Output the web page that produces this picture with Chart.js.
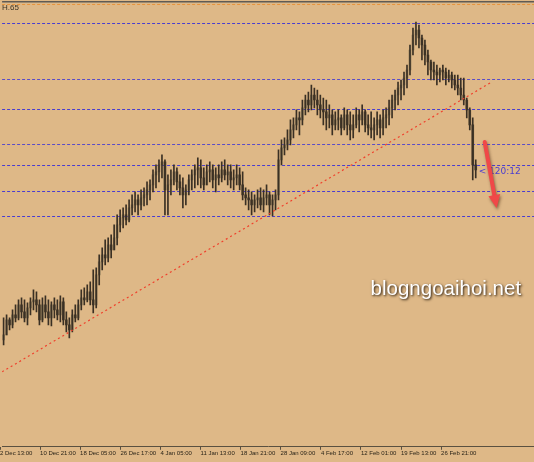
<!DOCTYPE html>
<html>
<head>
<meta charset="utf-8">
<script src="https://cdn.jsdelivr.net/npm/chart.js@4.4.1/dist/chart.umd.min.js"></script>
<style>
  html, body { margin: 0; padding: 0; background: #deb887; }
  #wrap { width: 534px; height: 462px; position: relative; }
</style>
</head>
<body>
<div id="wrap"><canvas id="chart"></canvas></div>
<script>
// H4 candles (price units)
const opens = [110,115,130,125,135,132,145,138,132,142,148,150,145,130,145,138,132,145,140,135,
  148,130,125,120,135,132,145,152,150,158,150,145,175,188,195,192,205,200,212,225,
  232,235,230,242,245,250,245,252,255,260,265,275,278,285,288,260,265,270,278,268,
  262,255,260,270,275,280,282,272,265,278,280,270,275,272,280,275,278,270,272,275,
  265,255,252,250,245,250,252,245,252,255,245,250,255,290,302,305,310,320,325,332,
  330,342,350,345,355,350,345,340,338,332,335,325,330,332,322,335,325,320,325,335,
  330,338,325,322,320,325,330,322,332,335,342,350,355,362,365,372,380,400,415,420,
  412,405,395,388,380,378,375,380,378,372,375,370,365,362,355,350,340,325,285];
const highs = [132,135,132,140,145,150,152,150,147,152,160,158,150,152,154,150,148,152,150,154,
  152,138,132,140,145,150,160,162,165,168,180,182,195,202,210,212,215,225,235,240,
  242,245,250,255,258,255,260,262,268,270,280,285,290,295,290,275,280,285,282,275,
  272,265,275,280,285,292,290,282,285,288,285,282,285,288,290,285,285,280,285,282,
  278,262,260,258,255,260,262,260,265,258,255,260,300,310,312,320,330,332,340,338,
  350,355,358,365,362,360,355,352,350,345,340,338,340,335,342,340,338,335,342,340,
  345,340,335,338,332,338,335,340,342,350,355,360,368,370,378,385,405,422,428,425,
  415,410,400,390,388,385,382,385,382,380,378,375,375,372,372,352,342,332,290];
const lows = [105,115,120,122,128,130,132,128,125,135,140,138,125,128,132,125,124,132,130,128,
  125,118,112,118,128,130,140,145,148,145,137,142,165,180,185,188,192,200,205,218,
  222,225,228,235,238,235,240,244,245,250,258,262,268,272,235,235,255,265,260,255,
  242,245,255,260,262,265,262,260,265,268,262,258,265,268,270,265,262,260,265,260,
  250,245,240,235,238,242,240,238,245,235,234,240,250,285,295,300,305,312,320,315,
  325,335,338,340,342,335,332,325,320,322,315,320,320,315,320,315,310,312,322,318,
  325,318,315,312,310,315,312,315,322,325,332,340,345,350,355,362,375,395,405,402,
  390,385,375,370,370,365,368,370,365,368,362,360,355,350,345,332,320,270,272];
const closes = [115,130,125,135,132,145,138,132,142,148,150,145,130,145,138,132,145,140,135,148,
  130,125,120,135,132,145,152,150,158,150,145,175,188,195,192,205,200,212,225,232,
  235,230,242,245,250,245,252,255,260,265,275,278,285,288,260,265,270,278,268,262,
  255,260,270,275,280,282,272,265,278,280,270,275,272,280,275,278,270,272,275,265,
  255,252,250,245,250,252,245,252,255,245,250,255,290,302,305,310,320,325,332,330,
  342,350,345,355,350,345,340,338,332,335,325,330,332,322,335,325,320,325,335,330,
  338,325,322,320,325,330,322,332,335,342,350,355,362,365,372,380,400,415,420,412,
  405,395,388,380,378,375,380,378,372,375,370,365,362,355,350,340,325,285,280];

// horizontal price levels
const levels = [446, 427, 371, 341, 306, 285, 259, 234];
const levelColors = ['#e8943c', '#4a3dd0', '#5a4cc8', '#4a3dd0', '#5a4cc8', '#4a3dd0', '#4a3dd0', '#4a3dd0'];

// trend line end points (bar index, price)
const trendX = [-0.5, 162.8];
const trendY = [78, 367];

// time axis
const tickPos = [-1.2, 12.2, 25.6, 39.1, 52.5, 65.9, 79.3, 92.7, 106.2, 119.6, 133.0, 146.4];
const tickLabels = ['2 Dec 13:00', '10 Dec 21:00', '18 Dec 05:00', '26 Dec 17:00', '4 Jan 05:00',
  '11 Jan 13:00', '18 Jan 21:00', '28 Jan 09:00', '4 Feb 17:00', '12 Feb 01:00', '19 Feb 13:00', '26 Feb 21:00'];

// annotations
const timerText = '< 120:12';
const timerAt = [159, 279];
const arrowFrom = [161.0, 308];
const arrowTo = [165.0, 242];
const watermark = 'blogngoaihoi.net';
const watermarkAt = [148.0, 161];
const cornerText = 'H.65';

const wickColor = '#3a3024';
const bearBody = '#4e4230';
const bullBody = '#8f7d5c';

const idx = closes.map((_, i) => i);

const levelsPlugin = {
  id: 'levels',
  beforeDatasetsDraw(chart) {
    const { ctx, chartArea, scales } = chart;
    ctx.save();
    ctx.lineWidth = 1;
    ctx.setLineDash([3, 2]);
    levels.forEach((v, k) => {
      const y = Math.round(scales.y.getPixelForValue(v)) + 0.5;
      ctx.strokeStyle = levelColors[k];
      ctx.beginPath();
      ctx.moveTo(chartArea.left, y);
      ctx.lineTo(chartArea.right, y);
      ctx.stroke();
    });
    ctx.setLineDash([]);
    // window frame at the top
    ctx.fillStyle = '#5e5a54';
    ctx.fillRect(chartArea.left, chartArea.top + 1, chartArea.right - chartArea.left, 1.5);
    ctx.fillStyle = '#3a3226';
    ctx.font = '8px "Liberation Sans", Arial, sans-serif';
    ctx.textBaseline = 'middle';
    ctx.fillText(cornerText, chartArea.left, chartArea.top + 7.5);
    ctx.restore();
  }
};

const notesPlugin = {
  id: 'notes',
  afterDatasetsDraw(chart) {
    const { ctx, scales } = chart;
    const px = v => scales.x.getPixelForValue(v);
    const py = v => scales.y.getPixelForValue(v);
    ctx.save();

    // timer label
    ctx.fillStyle = '#4a3dd0';
    ctx.font = '9px "DejaVu Sans", sans-serif';
    ctx.textBaseline = 'middle';
    ctx.fillText(timerText, px(timerAt[0]), py(timerAt[1]) + 1);

    // red arrow
    const x1 = px(arrowFrom[0]), y1 = py(arrowFrom[1]);
    const x2 = px(arrowTo[0]), y2 = py(arrowTo[1]);
    const ang = Math.atan2(y2 - y1, x2 - x1);
    const head = 13;
    const hx = x2 - head * Math.cos(ang), hy = y2 - head * Math.sin(ang);
    ctx.shadowColor = 'rgba(60,30,10,0.55)';
    ctx.shadowBlur = 3;
    ctx.shadowOffsetX = 1;
    ctx.shadowOffsetY = 2;
    ctx.strokeStyle = '#f04848';
    ctx.fillStyle = '#f04848';
    ctx.lineWidth = 4;
    ctx.lineCap = 'round';
    ctx.beginPath();
    ctx.moveTo(x1, y1);
    ctx.lineTo(hx, hy);
    ctx.stroke();
    ctx.beginPath();
    ctx.moveTo(x2, y2);
    ctx.lineTo(hx + 6 * Math.sin(ang), hy - 6 * Math.cos(ang));
    ctx.lineTo(hx - 6 * Math.sin(ang), hy + 6 * Math.cos(ang));
    ctx.closePath();
    ctx.fill();

    // watermark
    ctx.font = '20.5px "Liberation Sans", Arial, sans-serif';
    ctx.textAlign = 'center';
    ctx.textBaseline = 'middle';
    ctx.shadowColor = 'rgba(30,18,6,1)';
    ctx.shadowBlur = 2.5;
    ctx.shadowOffsetX = 1;
    ctx.shadowOffsetY = 1;
    ctx.fillStyle = '#ffffff';
    ctx.fillText(watermark, px(watermarkAt[0]), py(watermarkAt[1]));
    ctx.restore();
  }
};

new Chart(document.getElementById('chart'), {
  type: 'bar',
  data: {
    datasets: [
      {
        type: 'line',
        data: trendX.map((x, k) => ({ x, y: trendY[k] })),
        borderColor: '#f0402c',
        borderWidth: 1.2,
        borderDash: [2, 3],
        pointRadius: 0,
        order: 0
      },
      {
        label: 'wicks',
        data: idx.map(i => ({ x: i, y: [lows[i], highs[i]] })),
        backgroundColor: wickColor,
        barThickness: 1,
        grouped: false,
        order: 1
      },
      {
        label: 'bodies',
        data: idx.map(i => ({ x: i, y: [opens[i], closes[i]] })),
        backgroundColor: ctx => closes[ctx.dataIndex] > opens[ctx.dataIndex] ? bullBody : bearBody,
        barThickness: 2,
        grouped: false,
        order: 2
      }
    ]
  },
  options: {
    animation: false,
    responsive: true,
    maintainAspectRatio: false,
    layout: { padding: { left: 0, right: 0, top: 0, bottom: 5 } },
    plugins: { legend: { display: false }, tooltip: { enabled: false } },
    scales: {
      x: {
        type: 'linear',
        min: -0.5,
        max: 177.5,
        offset: false,
        afterBuildTicks: scale => { scale.ticks = tickPos.map(v => ({ value: v })); },
        grid: { offset: false, drawOnChartArea: false, drawTicks: true, tickLength: 3, color: '#5a5040' },
        border: { display: true, color: '#5a5040', width: 1 },
        ticks: {
          autoSkip: false,
          maxRotation: 0,
          align: 'start',
          padding: 0,
          color: '#2a2418',
          font: { family: '"Liberation Sans", Arial, sans-serif', size: 6 },
          callback: (v, i) => tickLabels[i]
        }
      },
      y: { display: false, min: 3, max: 450 }
    }
  },
  plugins: [levelsPlugin, notesPlugin]
});
</script>
</body>
</html>
